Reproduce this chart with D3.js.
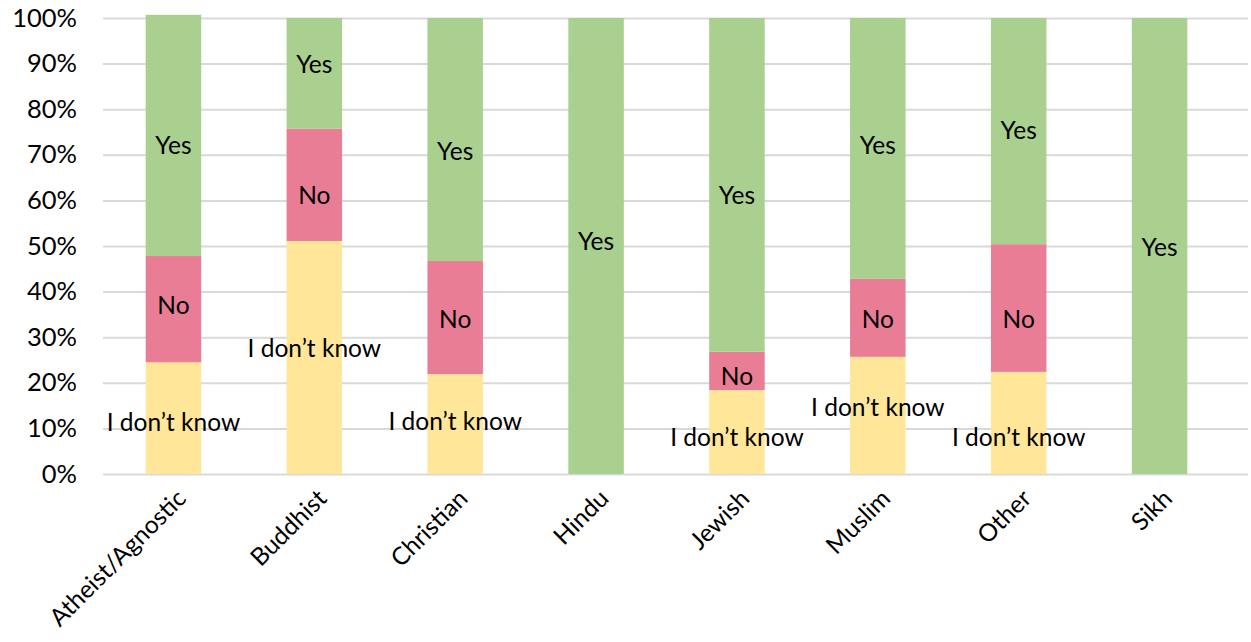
<!DOCTYPE html>
<html><head><meta charset="utf-8">
<script src="https://cdn.jsdelivr.net/npm/d3@7"></script>
<style>body{margin:0;background:#fff}svg{display:block}</style>
</head><body>
<div id="chart"></div>
<script>
const categories = ["Atheist/Agnostic","Buddhist","Christian","Hindu","Jewish","Muslim","Other","Sikh"];
const dontKnow = [24.5, 51.1, 21.9, 0, 18.4, 25.7, 22.4, 0];
const no       = [23.3, 24.6, 24.8, 0, 8.4, 17.1, 28.0, 0];
const yes      = [52.9, 24.3, 53.3, 100, 73.2, 57.2, 49.6, 100];
const seriesNames = ["I don\u2019t know","No","Yes"];
const yTicks = [0,10,20,30,40,50,60,70,80,90,100];
// label nudges (percentage points) from the segment centre
const nudgeDontKnow = [-0.9, 1.9, 0.5, 0, -1.1, 1.85, -3.1, 0];
const nudgeNo       = [0.9, -2.2, -0.3, 0, -1.1, -0.25, -2.4, 0];
const nudgeYes      = [-2.1, 1.9, -2.7, 0.9, -2.2, 0.7, 0.2, -0.4];

const W = 1251, H = 642;
const font = "Lato, 'DejaVu Sans', sans-serif";
const colors = ["#FFE699","#E97D96","#A9D08E"];

const svg = d3.select("#chart").append("svg").attr("width",W).attr("height",H);
const x = d3.scaleBand().domain(categories).range([103, 1230]).paddingInner(0.606).paddingOuter(0.303);
const y = d3.scaleLinear().domain([0,100]).range([474, 18]);

const yAxis = d3.axisLeft(y).tickValues(yTicks).tickFormat(d=>d+"%").tickSize(-(1248-103)).tickPadding(26);
const ga = svg.append("g").attr("transform","translate(103,0)").call(yAxis);
ga.select(".domain").remove();
ga.selectAll(".tick line").attr("stroke","#d9d9d9").attr("stroke-width",2);
ga.selectAll(".tick text").attr("font-family",font).attr("font-size",25.5).attr("fill","#000").attr("text-anchor","end");

const rows = categories.map((c,i)=>({cat:c, v:[dontKnow[i], no[i], yes[i]], n:[nudgeDontKnow[i], nudgeNo[i], nudgeYes[i]]}));
const stack = d3.stack().keys([0,1,2]).value((d,k)=>d.v[k]);
const layers = stack(rows);

svg.append("g").selectAll("g").data(layers).join("g").attr("fill",(d,i)=>colors[i])
  .selectAll("rect").data(d=>d).join("rect")
  .attr("x",d=>x(d.data.cat)).attr("width",x.bandwidth())
  .attr("y",d=>y(d[1])).attr("height",d=>y(d[0])-y(d[1]));

const lab = svg.append("g").attr("font-family",font).attr("font-size",24.5).attr("fill","#000").attr("text-anchor","middle");
layers.forEach((layer,k)=>{
  layer.forEach((d,i)=>{
    if (d[1]-d[0] <= 0) return;
    lab.append("text").attr("x",x(d.data.cat)+x.bandwidth()/2)
      .attr("y",y((d[0]+d[1])/2 + d.data.n[k])).attr("dy","0.35em").text(seriesNames[k]);
  });
});

const xl = svg.append("g").attr("font-family",font).attr("font-size",24.5).attr("fill","#000");
categories.forEach(c=>{
  xl.append("text").attr("text-anchor","end")
    .attr("transform",`translate(${x(c)+x.bandwidth()/2+14},${500}) rotate(-45)`).text(c);
});
</script>
</body></html>
